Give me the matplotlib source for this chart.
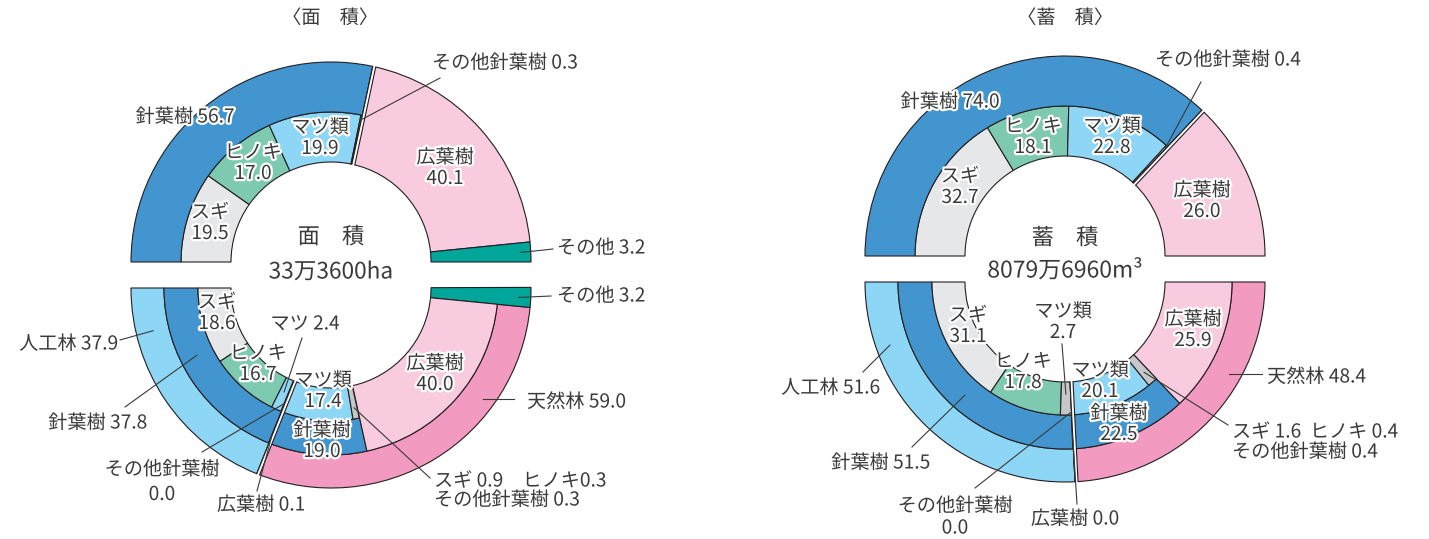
import numpy as np
import matplotlib
matplotlib.use('Agg')
import matplotlib.pyplot as plt
import matplotlib.patheffects as pe
from matplotlib.patches import Wedge

plt.rcParams['font.family'] = ['Noto Sans CJK JP', 'DejaVu Sans']

# ---- 面積 (%), left chart ----
area_top = [56.7, 40.1, 3.2]            # 針葉樹, 広葉樹, その他
area_top_sp = [19.5, 17.0, 19.9, 0.3]   # スギ, ヒノキ, マツ類, その他針葉樹
area_bot = [37.9, 59.0, 3.2]            # 人工林, 天然林, その他
area_art = [37.8, 0.1]                  # 人工林: 針葉樹, 広葉樹
area_art_sp = [18.6, 16.7, 2.4, 0.0]    # 人工林 針葉樹: スギ, ヒノキ, マツ, その他針葉樹
area_nat = [19.0, 40.0]                 # 天然林: 針葉樹, 広葉樹
area_nat_sp = [17.4, 0.9, 0.3, 0.3]     # 天然林 針葉樹: マツ類, スギ, ヒノキ, その他針葉樹

# ---- 蓄積 (%), right chart ----
vol_top = [74.0, 26.0]                  # 針葉樹, 広葉樹
vol_top_sp = [32.7, 18.1, 22.8, 0.4]    # スギ, ヒノキ, マツ類, その他針葉樹
vol_bot = [51.6, 48.4]                  # 人工林, 天然林
vol_art = [51.5, 0.0]                   # 人工林: 針葉樹, 広葉樹
vol_art_sp = [31.1, 17.8, 2.7, 0.0]     # スギ, ヒノキ, マツ類, その他針葉樹
vol_nat = [22.5, 25.9]                  # 天然林: 針葉樹, 広葉樹
vol_nat_sp = [20.1, 1.6, 0.4, 0.4]      # マツ類, スギ, ヒノキ, その他針葉樹

# colours
C_CON = '#4395cf'
C_BRD = '#f8cbdf'
C_OTH = '#00a699'
C_SUGI = '#e6e7e8'
C_HINO = '#7ecab1'
C_MATSU = '#8ed6f5'
C_MINOR = '#c6c7c9'
C_ART = '#8ed6f5'
C_NAT = '#f29ac0'
EDGE = '#231f20'
TXT = '#3a3a3a'

DEG = 1.8   # half circle = 100 %
FS = 13.8

fig = plt.figure(figsize=(14.29, 5.39), dpi=100)
ax = fig.add_axes([0, 0, 1, 1])
ax.set_xlim(0, 1429)
ax.set_ylim(539, 0)
ax.axis('off')


def polar(c, a, r):
    t = np.radians(a)
    return c[0] + r * np.cos(t), c[1] - r * np.sin(t)


def wedge(c, a1, a2, r_in, r_out, col):
    # angles are screen angles (ccw), y axis is flipped
    ax.add_patch(Wedge(c, r_out, -max(a1, a2), -min(a1, a2), width=r_out - r_in,
                       facecolor=col, edgecolor=EDGE, linewidth=0.8))


def ring(c, vals, cols, r_in, r_out, start, sign):
    s = start
    for v, col in zip(vals, cols):
        if v > 0:
            wedge(c, 180 + sign * s * DEG, 180 + sign * (s + v) * DEG, r_in, r_out, col)
        s += v
    return s


def gap(c, a, r_in, r_out, side, w=3.0):
    t = np.radians(a)
    u = np.array([np.cos(t), -np.sin(t)])
    p = np.array([-np.sin(t), -np.cos(t)]) * side
    c = np.array(c)
    q0, q1 = c + u * (r_in - 1), c + u * (r_out + 1.5)
    q0, q1 = q0 + p * w / 2, q1 + p * w / 2
    ax.plot([q0[0], q1[0]], [q0[1], q1[1]], color='white', lw=w * 0.72,
            solid_capstyle='butt', zorder=3)
    for off in (0, w):
        a0 = c + u * r_in + p * off
        a1 = c + u * r_out + p * off
        ax.plot([a0[0], a1[0]], [a0[1], a1[1]], color=EDGE, lw=0.8, zorder=3)


def lead(p0, p1):
    ax.plot([p0[0], p1[0]], [p0[1], p1[1]], color=TXT, lw=0.8, zorder=4)


halo = [pe.withStroke(linewidth=3.2, foreground='white')]


def txt(x, y, s, ha='center', size=FS):
    ax.text(x, y, s, ha=ha, va='center', fontsize=size, color=TXT,
            path_effects=halo, zorder=5)


def txt2(x, y, a, b, dy=21):
    txt(x, y - dy / 2, a)
    txt(x, y + dy / 2, b)


# ================= left: 面積 =================
LT, LB = (331, 262), (331, 288)

# top half (clockwise from the left)
ring(LT, area_top_sp, [C_SUGI, C_HINO, C_MATSU, C_MINOR], 100, 150, 0, -1)
ring(LT, area_top[:1], [C_CON], 150, 200, 0, -1)
ring(LT, area_top[1:], [C_BRD, C_OTH], 100, 200, area_top[0], -1)
gap(LT, 180 - area_top[0] * DEG, 100, 200, -1)

# bottom half (counter-clockwise from the left)
ring(LB, area_bot[:2], [C_ART, C_NAT], 167, 200, 0, 1)
ring(LB, area_bot[2:], [C_OTH], 100, 200, sum(area_bot[:2]), 1)
ring(LB, area_art[:1], [C_CON], 133, 167, 0, 1)
ring(LB, area_art_sp, [C_SUGI, C_HINO, C_MATSU, C_MINOR], 100, 133, 0, 1)
ring(LB, area_nat[:1], [C_CON], 133, 167, area_bot[0], 1)
ring(LB, area_nat[1:], [C_BRD], 100, 167, area_bot[0] + area_nat[0], 1)
ring(LB, [area_nat_sp[0], sum(area_nat_sp[1:])], [C_MATSU, C_MINOR], 100, 133, area_bot[0], 1)
gap(LB, 180 + area_bot[0] * DEG, 100, 200, 1)

txt(330, 18, '〈面　積〉')
txt(331, 237, '面　積', size=16)
txt(331, 272, '33万3600ha', size=16.3)

txt(185, 117, f'針葉樹 {area_top[0]}')
txt2(253, 163, 'ヒノキ', f'{area_top_sp[1]}')
txt2(320, 138, 'マツ類', f'{area_top_sp[2]}')
txt2(210, 223, 'スギ', f'{area_top_sp[0]}')
txt2(445, 168, '広葉樹', f'{area_top[1]}')
txt(432, 63, f'その他針葉樹 {area_top_sp[3]}', ha='left')
lead((440, 78), polar(LT, 180 - (area_top[0] - area_top_sp[3] / 2) * DEG, 145))
txt(557, 248, f'その他 {area_top[2]}', ha='left')
lead(polar(LT, 180 - (100 - area_top[2] / 2) * DEG, 190), (553, 249))

txt(557, 296, f'その他 {area_bot[2]}', ha='left')
lead(polar(LB, 180 + (100 - area_bot[2] / 2) * DEG, 188), (551, 296))
txt2(217, 313, 'スギ', f'{area_art_sp[0]}')
txt(305, 324, f'マツ {area_art_sp[2]}')
lead((302, 338), polar(LB, 180 + (area_art_sp[0] + area_art_sp[1] + area_art_sp[2] / 2) * DEG, 114))
txt2(258, 364, 'ヒノキ', f'{area_art_sp[1]}')
txt2(323, 391, 'マツ類', f'{area_nat_sp[0]}')
txt2(435, 374, '広葉樹', f'{area_nat[1]}')
txt2(322, 441, '針葉樹', f'{area_nat[0]}')
txt(118, 344, f'人工林 {area_bot[0]}', ha='right')
lead((120, 340), polar(LB, 193.5, 183))
txt(147, 423, f'針葉樹 {area_art[0]}', ha='right')
lead((125, 407), polar(LB, 206.6, 150))
txt(527, 402, f'天然林 {area_bot[1]}', ha='left')
p = polar(LB, 324, 188)
lead(p, (514, p[1]))
txt2(162, 482, 'その他針葉樹', f'{area_art_sp[3]}', dy=25)
lead((202, 452), polar(LB, 180 + sum(area_art_sp) * DEG, 125))
txt(261, 505, f'広葉樹 {area_art[1]}')
lead((257, 491), polar(LB, 180 + area_bot[0] * DEG, 160))
txt(434, 481, f'スギ {area_nat_sp[1]}　ヒノキ{area_nat_sp[2]}', ha='left')
txt(434, 500, f'その他針葉樹 {area_nat_sp[3]}', ha='left')
lead((430, 478), polar(LB, 180 + (area_bot[0] + area_nat_sp[0] + sum(area_nat_sp[1:]) / 2) * DEG, 122))

# ================= right: 蓄積 =================
RT, RB = (1065, 256), (1065, 282)

ring(RT, vol_top_sp, [C_SUGI, C_HINO, C_MATSU, C_MINOR], 100, 150, 0, -1)
ring(RT, vol_top[:1], [C_CON], 150, 200, 0, -1)
ring(RT, vol_top[1:], [C_BRD], 100, 200, vol_top[0], -1)
gap(RT, 180 - vol_top[0] * DEG, 100, 200, -1)

ring(RB, vol_bot, [C_ART, C_NAT], 167, 200, 0, 1)
ring(RB, vol_art[:1], [C_CON], 133, 167, 0, 1)
ring(RB, vol_art_sp, [C_SUGI, C_HINO, C_MINOR, C_MINOR], 100, 133, 0, 1)
ring(RB, vol_nat[:1], [C_CON], 133, 167, vol_bot[0], 1)
ring(RB, vol_nat[1:], [C_BRD], 100, 167, vol_bot[0] + vol_nat[0], 1)
ring(RB, [vol_nat_sp[0], sum(vol_nat_sp[1:])], [C_MATSU, C_MINOR], 100, 133, vol_bot[0], 1)
gap(RB, 180 + vol_bot[0] * DEG, 100, 200, 1)

txt(1065, 18, '〈蓄　積〉')
txt(1065, 238, '蓄　積', size=16)
txt(1065, 271, '8079万6960m³', size=16.5)

txt(950, 102, f'針葉樹 {vol_top[0]}')
txt2(1033, 137, 'ヒノキ', f'{vol_top_sp[1]}')
txt2(1112, 137, 'マツ類', f'{vol_top_sp[2]}')
txt2(960, 187, 'スギ', f'{vol_top_sp[0]}')
txt2(1202, 201, '広葉樹', f'{vol_top[1]}')
txt(1155, 60, f'その他針葉樹 {vol_top_sp[3]}', ha='left')
lead((1201, 82), polar(RT, 180 - (vol_top[0] - vol_top_sp[3] / 2) * DEG, 148))

txt2(968, 326, 'スギ', f'{vol_art_sp[0]}')
txt2(1063, 322, 'マツ類', f'{vol_art_sp[2]}')
lead((1062, 344), polar(RB, 180 + (vol_art_sp[0] + vol_art_sp[1] + vol_art_sp[2] / 2) * DEG, 112))
txt2(1023, 372, 'ヒノキ', f'{vol_art_sp[1]}')
txt2(1100, 381, 'マツ類', f'{vol_nat_sp[0]}')
txt2(1119, 424, '針葉樹', f'{vol_nat[0]}')
txt2(1193, 330, '広葉樹', f'{vol_nat[1]}')
txt(880, 388, f'人工林 {vol_bot[0]}', ha='right')
lead((863, 372), polar(RB, 199.8, 186))
txt(930, 463, f'針葉樹 {vol_art[0]}', ha='right')
lead((912, 447), polar(RB, 228.5, 151))
txt(1267, 377, f'天然林 {vol_bot[1]}', ha='left')
p = polar(RB, 330.8, 188)
lead(p, (1262, p[1]))
txt(1232, 432, f'スギ {vol_nat_sp[1]}  ヒノキ {vol_nat_sp[2]}', ha='left')
txt(1232, 452, f'その他針葉樹 {vol_nat_sp[3]}', ha='left')
lead((1228, 425), polar(RB, 180 + (vol_bot[0] + vol_nat_sp[0] + sum(vol_nat_sp[1:]) / 2) * DEG, 120))
txt2(955, 517, 'その他針葉樹', f'{vol_art_sp[3]}', dy=22)
lead((975, 488), polar(RB, 180 + sum(vol_art_sp) * DEG, 130))
txt(1075, 519, f'広葉樹 {vol_art[1]}')
lead((1077, 504), polar(RB, 180 + vol_bot[0] * DEG, 158))

fig.savefig('out.png', dpi=100)
